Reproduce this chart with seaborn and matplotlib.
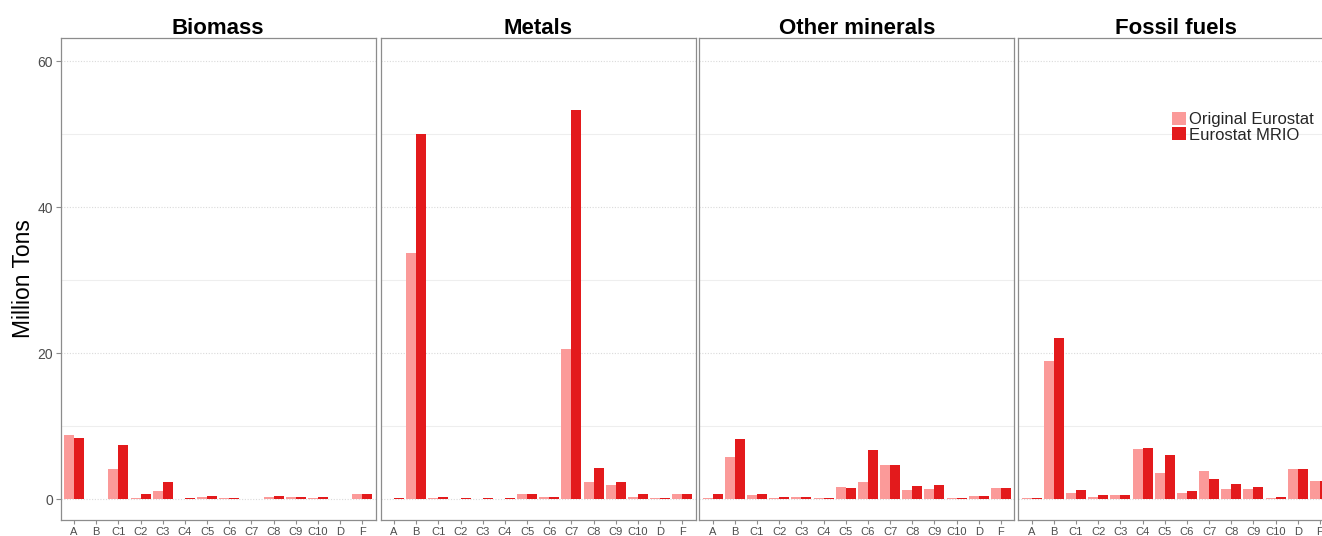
import numpy as np
import pandas as pd
import matplotlib
matplotlib.use("Agg")
import matplotlib.pyplot as plt
import seaborn as sns
from matplotlib.ticker import MultipleLocator

# Sectors on the x axis and material groups shown as panels
sectors = ["A", "B", "C1", "C2", "C3", "C4", "C5", "C6", "C7", "C8", "C9", "C10", "D", "F"]
materials = ["Biomass", "Metals", "Other minerals", "Fossil fuels"]
sources = ["Original Eurostat", "Eurostat MRIO"]

# Million tons per sector
biomass_orig = [8.8, 0.0, 4.16, 0.18, 1.19, 0.05, 0.37, 0.18, 0.05, 0.32, 0.32, 0.18, 0.05, 0.68]
biomass_mrio = [8.4, 0.05, 7.4, 0.73, 2.37, 0.1, 0.5, 0.18, 0.05, 0.5, 0.32, 0.32, 0.05, 0.68]

metals_orig = [0.05, 33.8, 0.18, 0.05, 0.05, 0.05, 0.73, 0.27, 20.6, 2.42, 1.92, 0.37, 0.18, 0.73]
metals_mrio = [0.1, 50.0, 0.32, 0.23, 0.23, 0.1, 0.73, 0.32, 53.4, 4.3, 2.37, 0.68, 0.23, 0.73]

minerals_orig = [0.18, 5.85, 0.64, 0.18, 0.37, 0.18, 1.7, 2.37, 4.75, 1.32, 1.46, 0.18, 0.46, 1.6]
minerals_mrio = [0.73, 8.2, 0.73, 0.37, 0.37, 0.18, 1.55, 6.76, 4.75, 1.83, 1.92, 0.23, 0.46, 1.6]

fossil_orig = [0.18, 18.9, 0.87, 0.37, 0.55, 6.9, 3.65, 0.82, 3.8, 1.46, 1.46, 0.23, 4.1, 2.56]
fossil_mrio = [0.18, 22.1, 1.28, 0.6, 0.6, 7.0, 6.0, 1.1, 2.74, 2.1, 1.69, 0.37, 4.1, 2.56]

series = {
    "Biomass": (biomass_orig, biomass_mrio),
    "Metals": (metals_orig, metals_mrio),
    "Other minerals": (minerals_orig, minerals_mrio),
    "Fossil fuels": (fossil_orig, fossil_mrio),
}

rows = []
for mat in materials:
    for src, vals in zip(sources, series[mat]):
        for sec, v in zip(sectors, vals):
            rows.append({"material": mat, "source": src, "sector": sec, "value": v})
df = pd.DataFrame(rows)

palette = {"Original Eurostat": "#FB9A99", "Eurostat MRIO": "#E31A1C"}

sns.set_theme(style="white")
plt.rcParams["font.family"] = ["Liberation Sans", "DejaVu Sans"]

W, H = 1322, 536
fig = plt.figure(figsize=(W / 100, H / 100), dpi=100)

panel_left = [60.7, 380.7, 699.3, 1018.3]
panel_w = 315.0
panel_top, panel_bottom = 38.0, 520.0

for i, mat in enumerate(materials):
    ax = fig.add_axes([panel_left[i] / W, (H - panel_bottom) / H,
                       panel_w / W, (panel_bottom - panel_top) / H])
    sub = df[df["material"] == mat]
    sns.barplot(data=sub, x="sector", y="value", hue="source",
                order=sectors, hue_order=sources, palette=palette,
                saturation=1, width=0.9, errorbar=None, linewidth=0,
                legend=(i == 3), ax=ax)

    ax.set_xlim(-0.6, len(sectors) - 0.4)
    ax.set_ylim(-2.85, 63.2)
    ax.yaxis.set_major_locator(MultipleLocator(20))
    ax.yaxis.set_minor_locator(MultipleLocator(10))
    ax.set_axisbelow(True)
    ax.grid(False)
    ax.grid(which="major", axis="y", color="#DADADA", linestyle=(0, (1, 1.5)), linewidth=0.8)
    ax.grid(which="minor", axis="y", color="#EEEEEE", linestyle="-", linewidth=0.8)

    for sp in ax.spines.values():
        sp.set_visible(True)
        sp.set_color("#8C8C8C")
        sp.set_linewidth(0.9)

    ax.set_xlabel("")
    ax.set_title(mat, fontsize=16, fontweight="bold", color="black", pad=3)
    ax.tick_params(axis="x", which="major", bottom=True, length=3, width=0.8,
                   color="#8C8C8C", labelsize=8, labelcolor="#4D4D4D", pad=2)
    ax.tick_params(axis="y", which="minor", left=False, length=0)
    if i == 0:
        ax.tick_params(axis="y", which="major", left=True, length=3.5, width=0.8,
                       color="#8C8C8C", labelsize=10, labelcolor="#4D4D4D", pad=2)
        ax.set_ylabel("Million Tons", fontsize=16.5, color="black", labelpad=2)
    else:
        ax.tick_params(axis="y", which="major", left=False, labelleft=False)
        ax.set_ylabel("")

    if i == 3:
        handles, labels = ax.get_legend_handles_labels()
        ax.legend(handles, labels, loc="upper left", bbox_to_anchor=(0.489, 0.846),
                  frameon=False, fontsize=12, handlelength=0.8, handleheight=0.8,
                  handletextpad=0.2, labelspacing=0.0, borderpad=0, borderaxespad=0)

fig.savefig("out.png", dpi=100)
